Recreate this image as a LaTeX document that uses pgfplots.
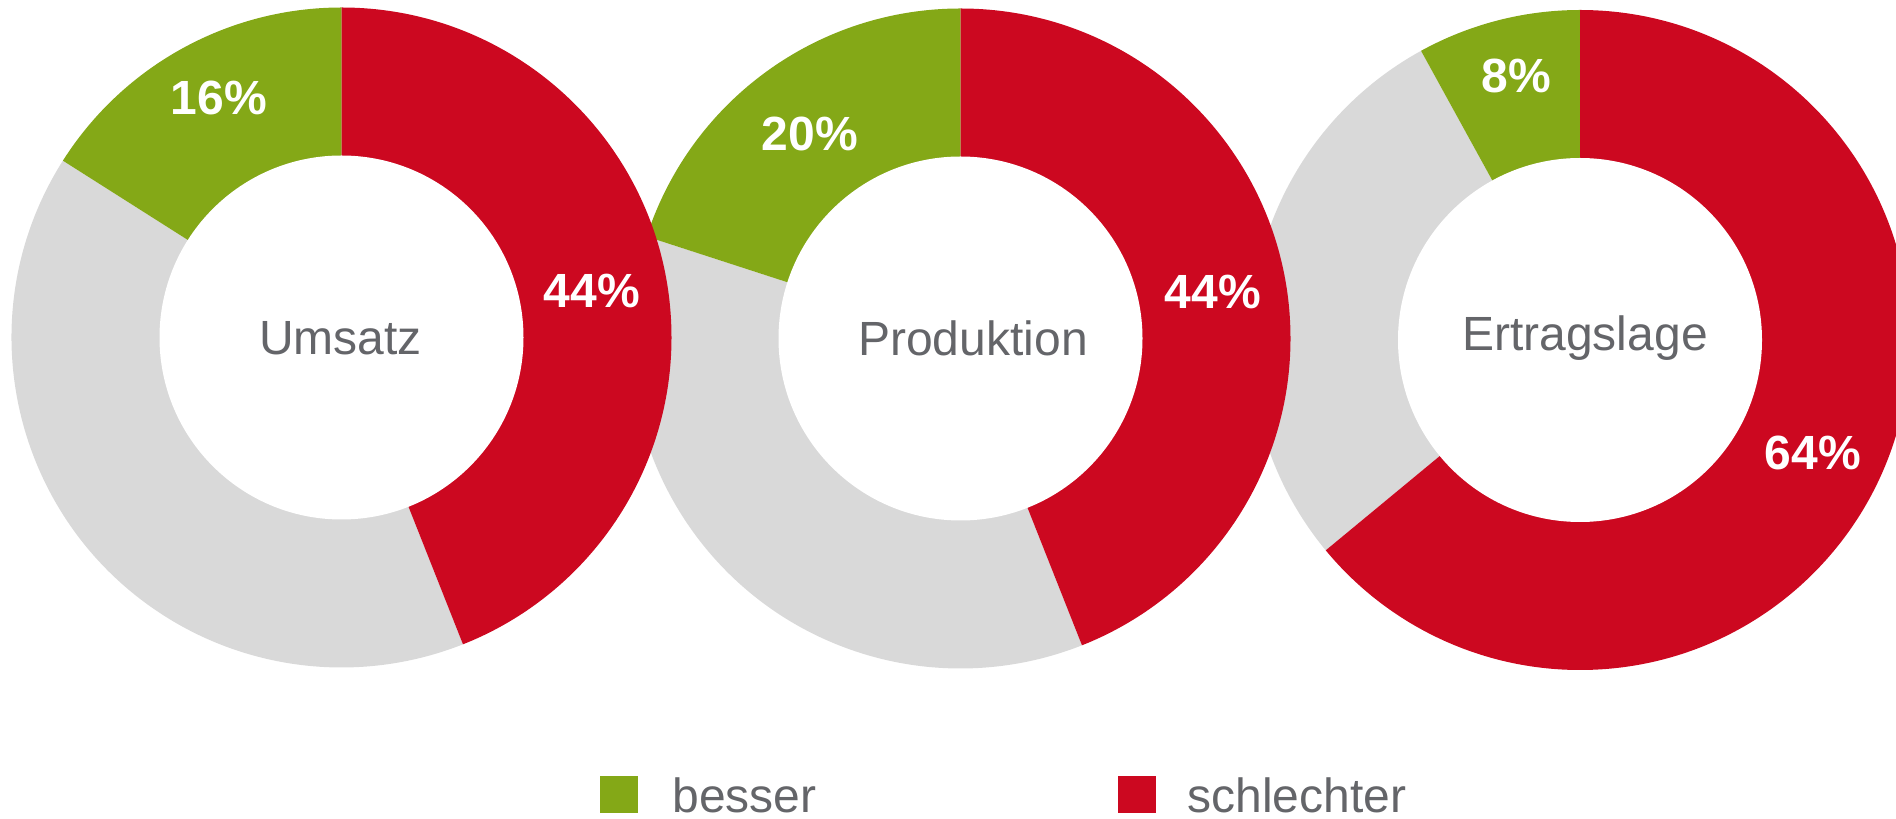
\documentclass[border=0pt]{standalone}
\usepackage{pgfplots}
\pgfplotsset{compat=1.18}
\usepackage{fontspec}
\setmainfont{Liberation Sans}
\definecolor{cgreen}{HTML}{84A817}
\definecolor{cred}{HTML}{CC0820}
\definecolor{cgrey}{HTML}{D9D9D9}
\definecolor{ctext}{HTML}{646569}
% 1 axis unit = 0.5pt ; outer radius 330 units, inner 182 units
\newcommand{\donut}[4]{% cx, cy, besser (%), schlechter (%)
  \fill[cgrey] (axis cs:#1,#2) -- ++({90+3.6*#3}:165pt) arc[start angle={90+3.6*#3}, end angle={450-3.6*#4}, radius=165pt] -- cycle;
  \fill[cgreen] (axis cs:#1,#2) -- ++(90:165pt) arc[start angle=90, end angle={90+3.6*#3}, radius=165pt] -- cycle;
  \fill[cred] (axis cs:#1,#2) -- ++(90:165pt) arc[start angle=90, end angle={90-3.6*#4}, radius=165pt] -- cycle;
  \fill[white] (axis cs:#1,#2) circle[radius=91pt];
}
\begin{document}
\begin{tikzpicture}
\useasboundingbox (0,0) rectangle (948pt,409.5pt);
\clip (0,0) rectangle (948pt,409.5pt);
\begin{axis}[at={(0,0)}, anchor=south west, width=948pt, height=409.5pt, scale only axis,
  xmin=0, xmax=1896, ymin=0, ymax=819, hide axis, clip=false]
% Ertragslage
\donut{1580}{479}{8}{64}
\node[anchor=base, font=\fontsize{24}{28}\selectfont, text=ctext, inner sep=0] at (axis cs:1585,468.6) {Ertragslage};
\node[anchor=base, font=\fontsize{24}{28}\selectfont\bfseries, text=white, inner sep=0] at (axis cs:1516,726) {8\%};
\node[anchor=base, font=\fontsize{24}{28}\selectfont\bfseries, text=white, inner sep=0] at (axis cs:1813,349) {64\%};
% Produktion
\donut{960.5}{480.5}{20}{44}
\node[anchor=base, font=\fontsize{24}{28}\selectfont, text=ctext, inner sep=0] at (axis cs:973,463) {Produktion};
\node[anchor=base, font=\fontsize{24}{28}\selectfont\bfseries, text=white, inner sep=0] at (axis cs:810,668.6) {20\%};
\node[anchor=base, font=\fontsize{24}{28}\selectfont\bfseries, text=white, inner sep=0] at (axis cs:1212.7,510) {44\%};
% Umsatz
\donut{341.5}{481.5}{16}{44}
\node[anchor=base, font=\fontsize{24}{28}\selectfont, text=ctext, inner sep=0] at (axis cs:340.5,464) {Umsatz};
\node[anchor=base, font=\fontsize{24}{28}\selectfont\bfseries, text=white, inner sep=0] at (axis cs:219,704) {16\%};
\node[anchor=base, font=\fontsize{24}{28}\selectfont\bfseries, text=white, inner sep=0] at (axis cs:592,511) {44\%};
% legend
\fill[cgreen] (axis cs:600,6) rectangle (axis cs:638,43);
\node[anchor=base west, font=\fontsize{24}{28}\selectfont, text=ctext, inner sep=0] at (axis cs:672,6) {besser};
\fill[cred] (axis cs:1118,6) rectangle (axis cs:1156,43);
\node[anchor=base west, font=\fontsize{24}{28}\selectfont, text=ctext, inner sep=0] at (axis cs:1187,6) {schlechter};
\end{axis}
\end{tikzpicture}
\end{document}
